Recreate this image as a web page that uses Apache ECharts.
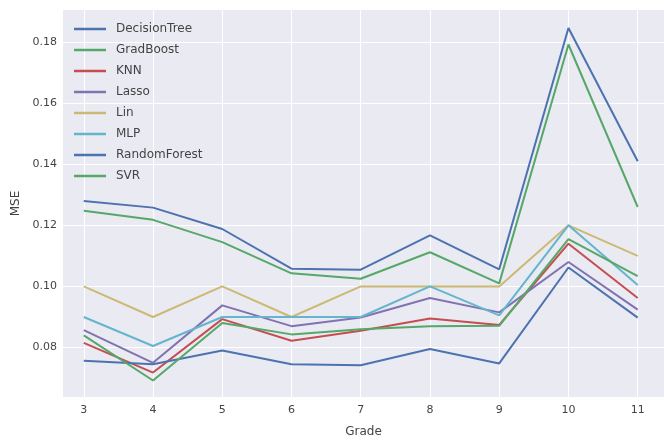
<!DOCTYPE html>
<html>
<head>
<meta charset="utf-8">
<script src="https://cdn.jsdelivr.net/npm/echarts@6/dist/echarts.min.js"></script>
<style>
  html, body { margin: 0; padding: 0; background: #ffffff; }
  #chart { width: 664px; height: 443px; }
</style>
</head>
<body>
<div id="chart"></div>
<script>
// Grades on the x axis
const grades = [3, 4, 5, 6, 7, 8, 9, 10, 11];

// Mean squared error per model, one value per grade
const decisionTree = [0.1280, 0.1258, 0.1188, 0.1058, 0.1055, 0.1167, 0.1056, 0.1846, 0.1410];
const gradBoost    = [0.1248, 0.1218, 0.1145, 0.1043, 0.1025, 0.1112, 0.1010, 0.1792, 0.1260];
const knn          = [0.0815, 0.0718, 0.0893, 0.0822, 0.0855, 0.0895, 0.0874, 0.1140, 0.0962];
const lasso        = [0.0857, 0.0750, 0.0938, 0.0870, 0.0898, 0.0962, 0.0915, 0.1080, 0.0924];
const lin          = [0.1000, 0.0900, 0.1000, 0.0900, 0.1000, 0.1000, 0.1000, 0.1200, 0.1100];
const mlp          = [0.0900, 0.0805, 0.0900, 0.0900, 0.0900, 0.1000, 0.0905, 0.1200, 0.1005];
const randomForest = [0.0757, 0.0745, 0.0790, 0.0745, 0.0742, 0.0795, 0.0748, 0.1062, 0.0898];
const svr          = [0.0840, 0.0692, 0.0880, 0.0843, 0.0860, 0.0870, 0.0871, 0.1155, 0.1034];

// Axis tick labels
const xTicks = [3, 4, 5, 6, 7, 8, 9, 10, 11];
const yTicks = [0.08, 0.10, 0.12, 0.14, 0.16, 0.18];

const seriesDefs = [
  { name: 'DecisionTree', values: decisionTree, color: '#4C72B0' },
  { name: 'GradBoost',    values: gradBoost,    color: '#55A868' },
  { name: 'KNN',          values: knn,          color: '#C44E52' },
  { name: 'Lasso',        values: lasso,        color: '#8172B2' },
  { name: 'Lin',          values: lin,          color: '#CCB974' },
  { name: 'MLP',          values: mlp,          color: '#64B5CD' },
  { name: 'RandomForest', values: randomForest, color: '#4C72B0' },
  { name: 'SVR',          values: svr,          color: '#55A868' }
];

const fontFamily = '"DejaVu Sans", sans-serif';
const textColor = '#444444';

const chart = echarts.init(document.getElementById('chart'), null, { renderer: 'canvas' });

chart.setOption({
  animation: false,
  backgroundColor: '#ffffff',
  grid: {
    left: 63, right: 0, top: 10, bottom: 39,
    show: true,
    backgroundColor: '#EAEAF2',
    borderWidth: 0
  },
  legend: {
    orient: 'vertical',
    left: 74,
    top: 22,
    padding: 0,
    icon: 'rect',
    itemWidth: 32,
    itemHeight: 2.5,
    itemGap: 7,
    textStyle: {
      fontFamily: fontFamily,
      fontSize: 12,
      color: textColor,
      lineHeight: 14,
      padding: [0, 0, 0, 5]
    },
    data: seriesDefs.map(s => s.name)
  },
  xAxis: {
    type: 'value',
    min: 2.7,
    max: 11.38,
    name: 'Grade',
    nameLocation: 'middle',
    nameGap: 29,
    nameTextStyle: { fontFamily: fontFamily, fontSize: 12, color: textColor },
    axisLine: { show: false },
    axisTick: { show: false, customValues: xTicks },
    axisLabel: {
      customValues: xTicks,
      fontFamily: fontFamily,
      fontSize: 11,
      color: textColor,
      margin: 8
    },
    splitLine: { show: true, lineStyle: { color: '#ffffff', width: 1 } }
  },
  yAxis: {
    type: 'value',
    min: 0.0638,
    max: 0.1905,
    name: 'MSE',
    nameLocation: 'middle',
    nameGap: 38,
    nameRotate: 90,
    nameTextStyle: { fontFamily: fontFamily, fontSize: 12, color: textColor },
    axisLine: { show: false },
    axisTick: { show: false, customValues: yTicks },
    axisLabel: {
      customValues: yTicks,
      formatter: v => v.toFixed(2),
      fontFamily: fontFamily,
      fontSize: 11,
      color: textColor,
      margin: 6
    },
    splitLine: { show: true, lineStyle: { color: '#ffffff', width: 1 } }
  },
  series: seriesDefs.map(s => ({
    name: s.name,
    type: 'line',
    data: grades.map((g, i) => [g, s.values[i]]),
    showSymbol: false,
    symbol: 'none',
    lineStyle: { color: s.color, width: 2 },
    itemStyle: { color: s.color }
  }))
});
</script>
</body>
</html>
